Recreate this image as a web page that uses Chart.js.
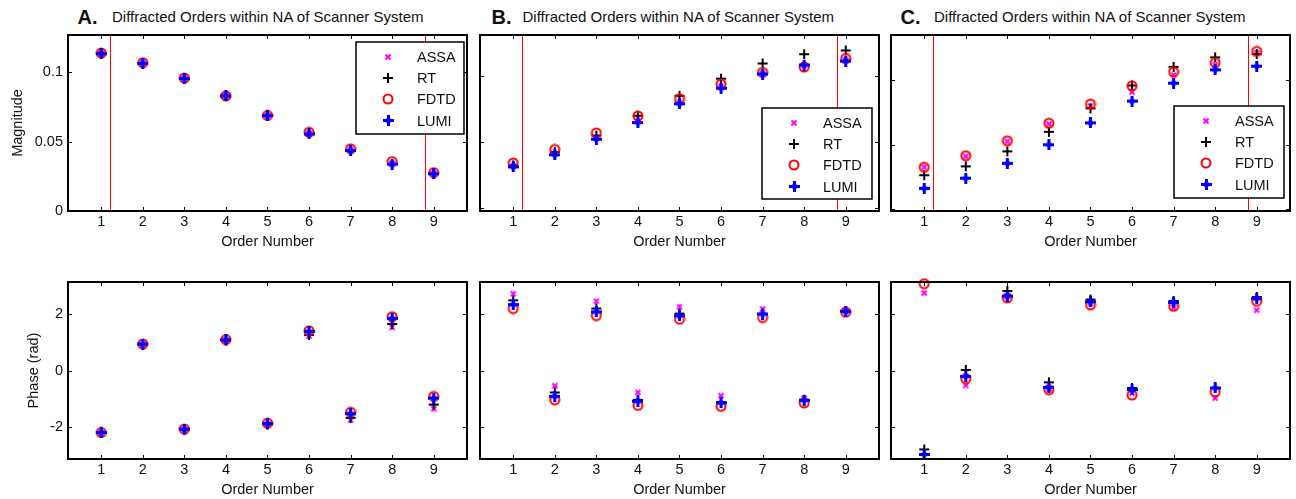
<!DOCTYPE html>
<html>
<head>
<meta charset="utf-8">
<script src="https://cdn.jsdelivr.net/npm/chart.js@4.4.1/dist/chart.umd.min.js"></script>
<style>
  body { margin: 0; background: #fff; width: 1296px; height: 499px; overflow: hidden; position: relative;
         font-family: "Liberation Sans", Arial, sans-serif; color: #111; }
  canvas { position: absolute; }
  .lab { position: absolute; top: 7px; font-size: 20px; font-weight: bold; line-height: 1; }
  .ttl { position: absolute; top: 9.3px; font-size: 15px; line-height: 1; white-space: nowrap; }
</style>
</head>
<body>
<div class="lab" style="left:77.5px">A.</div>
<div class="ttl" style="left:112px">Diffracted Orders within NA of Scanner System</div>
<div class="lab" style="left:491.5px">B.</div>
<div class="ttl" style="left:522.5px">Diffracted Orders within NA of Scanner System</div>
<div class="lab" style="left:900.5px">C.</div>
<div class="ttl" style="left:934px">Diffracted Orders within NA of Scanner System</div>

<canvas id="magA"></canvas>
<canvas id="magB"></canvas>
<canvas id="magC"></canvas>
<canvas id="phA"></canvas>
<canvas id="phB"></canvas>
<canvas id="phC"></canvas>

<script>
// ---- data ----
const orders = [1, 2, 3, 4, 5, 6, 7, 8, 9];
const naLines = [1.2, 8.8];
const magTicks = [0, 0.05, 0.1];
const phaseTicks = [-2, 0, 2];

// A. magnitude
const assaMagA = [0.114, 0.107, 0.096, 0.083, 0.069, 0.0562, 0.0443, 0.0345, 0.0272];
const rtMagA   = [0.1138, 0.1068, 0.0958, 0.0832, 0.0688, 0.0558, 0.0440, 0.0340, 0.0270];
const fdtdMagA = [0.114, 0.107, 0.096, 0.083, 0.069, 0.0568, 0.0449, 0.0357, 0.0277];
const lumiMagA = [0.1135, 0.1065, 0.0955, 0.083, 0.0688, 0.0556, 0.0437, 0.0338, 0.0269];
// B. magnitude
const assaMagB = [0.032, 0.041, 0.053, 0.066, 0.080, 0.092, 0.102, 0.108, 0.112];
const rtMagB   = [0.0325, 0.0425, 0.055, 0.070, 0.085, 0.098, 0.1095, 0.1165, 0.1193];
const fdtdMagB = [0.0343, 0.0445, 0.057, 0.0698, 0.0828, 0.0938, 0.1028, 0.1068, 0.1133];
const lumiMagB = [0.0313, 0.0405, 0.0523, 0.0648, 0.079, 0.0908, 0.1015, 0.1083, 0.1113];
// C. magnitude
const assaMagC = [0.0326, 0.041, 0.0526, 0.066, 0.080, 0.0908, 0.104, 0.112, 0.121];
const rtMagC   = [0.0264, 0.0333, 0.0449, 0.060, 0.0782, 0.0959, 0.1103, 0.1177, 0.1203];
const fdtdMagC = [0.0326, 0.0415, 0.0531, 0.0667, 0.0815, 0.0956, 0.1064, 0.1136, 0.1223];
const lumiMagC = [0.0162, 0.0241, 0.0356, 0.050, 0.0669, 0.0838, 0.0977, 0.108, 0.1108];

// A. phase
const assaPhA = [-2.22, 0.92, -2.1, 1.06, -1.92, 1.22, -1.76, 1.53, -1.36];
const rtPhA   = [-2.22, 0.92, -2.1, 1.06, -1.92, 1.26, -1.68, 1.65, -1.21];
const fdtdPhA = [-2.2, 0.94, -2.08, 1.1, -1.87, 1.41, -1.48, 1.91, -0.92];
const lumiPhA = [-2.2, 0.94, -2.08, 1.09, -1.88, 1.39, -1.53, 1.85, -0.98];
// B. phase
const assaPhB = [2.73, -0.54, 2.46, -0.78, 2.26, -0.89, 2.18, -0.98, 2.1];
const rtPhB   = [2.49, -0.78, 2.2, -1.04, 2.02, -1.12, 2.02, -1.04, 2.1];
const fdtdPhB = [2.2, -1.04, 1.95, -1.24, 1.82, -1.27, 1.88, -1.15, 2.07];
const lumiPhB = [2.34, -0.92, 2.08, -1.09, 1.94, -1.15, 2.0, -1.06, 2.1];
// C. phase
const assaPhC = [2.75, -0.53, 2.62, -0.66, 2.38, -0.8, 2.24, -0.98, 2.14];
const rtPhC   = [-2.8, 0.02, 2.82, -0.42, 2.52, -0.62, 2.47, -0.62, 2.61];
const fdtdPhC = [3.08, -0.29, 2.58, -0.68, 2.33, -0.87, 2.28, -0.76, 2.46];
const lumiPhC = [-2.98, -0.21, 2.64, -0.6, 2.44, -0.68, 2.42, -0.62, 2.55];

const FONT = '"Liberation Sans", Arial, sans-serif';

// ---- marker images (matlab-ish symbols) ----
function makeMarker(kind) {
  const c = document.createElement('canvas');
  const g = c.getContext('2d');
  if (kind === 'x') {
    c.width = c.height = 8;
    g.strokeStyle = '#ff00ff'; g.lineWidth = 2;
    g.beginPath();
    g.moveTo(1.5, 1.5); g.lineTo(6.5, 6.5);
    g.moveTo(6.5, 1.5); g.lineTo(1.5, 6.5);
    g.stroke();
  } else if (kind === '+') {
    c.width = c.height = 12;
    g.fillStyle = '#000';
    g.fillRect(1, 5, 10, 2);
    g.fillRect(5, 1, 2, 10);
  } else if (kind === 'o') {
    c.width = c.height = 12;
    g.strokeStyle = '#ff0000'; g.lineWidth = 2;
    g.beginPath(); g.arc(6, 6, 4.5, 0, Math.PI * 2); g.stroke();
  } else {
    // blue filled star: cross arms + diamond body
    c.width = c.height = 11;
    g.fillStyle = '#0000ff';
    g.fillRect(0, 4, 11, 3);
    g.fillRect(4, 0, 3, 11);
    g.beginPath();
    g.moveTo(5.5, 1.5); g.lineTo(9.5, 5.5); g.lineTo(5.5, 9.5); g.lineTo(1.5, 5.5);
    g.closePath(); g.fill();
  }
  return c;
}
const mk = { ASSA: makeMarker('x'), RT: makeMarker('+'), FDTD: makeMarker('o'), LUMI: makeMarker('*') };

// ---- plugins ----
const axesBox = {
  id: 'axesBox',
  beforeDatasetsDraw(chart, args, opts) {
    if (!opts.na) return;
    const { ctx, chartArea: a, scales: { x } } = chart;
    ctx.save();
    ctx.strokeStyle = '#ff0000';
    ctx.lineWidth = 1;
    naLines.forEach(v => {
      const px = Math.round(x.getPixelForValue(v)) + 0.5;
      ctx.beginPath(); ctx.moveTo(px, a.top); ctx.lineTo(px, a.bottom); ctx.stroke();
    });
    ctx.restore();
  },
  afterDatasetsDraw(chart) {
    const { ctx, chartArea: a, scales: { x, y } } = chart;
    ctx.save();
    ctx.strokeStyle = '#000';
    ctx.lineWidth = 1;
    ctx.beginPath();
    x.ticks.forEach(t => {
      const px = Math.round(x.getPixelForValue(t.value)) + 0.5;
      ctx.moveTo(px, a.bottom); ctx.lineTo(px, a.bottom - 4);
      ctx.moveTo(px, a.top); ctx.lineTo(px, a.top + 4);
    });
    y.ticks.forEach(t => {
      const py = Math.round(y.getPixelForValue(t.value)) + 0.5;
      ctx.moveTo(a.left, py); ctx.lineTo(a.left + 4, py);
      ctx.moveTo(a.right, py); ctx.lineTo(a.right - 4, py);
    });
    ctx.stroke();
    ctx.lineWidth = 2;
    ctx.strokeRect(a.left, a.top, a.right - a.left, a.bottom - a.top);
    ctx.restore();
  }
};

const boxLegend = {
  id: 'boxLegend',
  afterDraw(chart, args, opts) {
    if (!opts.show) return;
    const { ctx, chartArea: a } = chart;
    const x = Math.round(a.left + opts.x), y = Math.round(a.top + opts.y);
    ctx.save();
    ctx.fillStyle = '#fff';
    ctx.fillRect(x, y, opts.w, opts.h);
    ctx.strokeStyle = '#000';
    ctx.lineWidth = 1.5;
    ctx.strokeRect(x, y, opts.w, opts.h);
    ctx.font = '14.5px ' + FONT;
    ctx.fillStyle = '#111';
    ctx.textBaseline = 'middle';
    chart.data.datasets.forEach((ds, i) => {
      const yy = y + 14.5 + i * 21.4;
      const img = ds.pointStyle;
      ctx.drawImage(img, Math.round(x + 32 - img.width / 2), Math.round(yy - img.height / 2));
      ctx.fillText(ds.label, x + 61, yy + 1);
    });
    ctx.restore();
  }
};

function series(label, vals, order) {
  return {
    label: label,
    data: orders.map((o, i) => ({ x: o, y: vals[i] })),
    pointStyle: mk[label],
    pointRadius: 5,
    showLine: false,
    clip: false,
    order: order
  };
}

function buildPanel(id, cfg) {
  const yW = cfg.yW, padTop = 8, padRight = 4, xH = 45;
  const cv = document.getElementById(id);
  cv.width = yW + cfg.w + padRight;
  cv.height = padTop + cfg.h + xH;
  cv.style.left = (cfg.left - yW) + 'px';
  cv.style.top = (cfg.top - padTop) + 'px';

  new Chart(cv, {
    type: 'scatter',
    data: {
      datasets: [
        series('ASSA', cfg.assa, 4),
        series('RT', cfg.rt, 3),
        series('FDTD', cfg.fdtd, 2),
        series('LUMI', cfg.lumi, 1)
      ]
    },
    options: {
      responsive: false,
      animation: false,
      events: [],
      layout: { padding: { top: padTop, right: padRight, left: 0, bottom: 0 } },
      scales: {
        x: {
          type: 'linear', min: 0.2, max: 9.8,
          afterBuildTicks: s => { s.ticks = orders.map(v => ({ value: v })); },
          afterFit: s => { s.height = xH; s.paddingLeft = 0; s.paddingRight = 0; },
          grid: { display: false, drawTicks: false },
          border: { display: false },
          ticks: { padding: 2, color: '#111', font: { size: 14.5, family: FONT }, maxRotation: 0 },
          title: { display: true, text: 'Order Number', color: '#111',
                   font: { size: 14.5, family: FONT }, padding: { top: 0, bottom: 5.5 } }
        },
        y: {
          type: 'linear', min: cfg.ymin, max: cfg.ymax,
          afterBuildTicks: s => { s.ticks = cfg.yt.map(v => ({ value: v })); },
          afterFit: s => { s.width = yW; s.paddingTop = 0; s.paddingBottom = 0; },
          grid: { display: false, drawTicks: false },
          border: { display: false },
          ticks: { display: !!cfg.ytitle, padding: 5, color: '#111',
                   font: { size: 14.5, family: FONT }, callback: v => String(v) },
          title: { display: !!cfg.ytitle, text: cfg.ytitle || '', color: '#111',
                   font: { size: 14.5, family: FONT }, padding: { top: cfg.tpad || 0, bottom: 0 } }
        }
      },
      plugins: {
        legend: { display: false },
        tooltip: { enabled: false },
        axesBox: { na: !!cfg.na },
        boxLegend: cfg.legend || { show: false }
      }
    },
    plugins: [axesBox, boxLegend]
  });
}

const colLeft = [68, 480, 891];
const topRow = { top: 35, h: 176 };
const botRow = { top: 282, h: 177 };

buildPanel('magA', { left: colLeft[0], w: 401, top: topRow.top, h: topRow.h, yW: 68,
  ymin: 0, ymax: 0.127, yt: magTicks, ytitle: 'Magnitude', tpad: 9.3, na: true,
  assa: assaMagA, rt: rtMagA, fdtd: fdtdMagA, lumi: lumiMagA,
  legend: { show: true, x: 288, y: 7, w: 108, h: 92 } });
buildPanel('magB', { left: colLeft[1], w: 401, top: topRow.top, h: topRow.h, yW: 8,
  ymin: -0.002, ymax: 0.131, yt: magTicks, na: true,
  assa: assaMagB, rt: rtMagB, fdtd: fdtdMagB, lumi: lumiMagB,
  legend: { show: true, x: 282, y: 73, w: 110, h: 91 } });
buildPanel('magC', { left: colLeft[2], w: 401, top: topRow.top, h: topRow.h, yW: 8,
  ymin: -0.0013, ymax: 0.135, yt: magTicks, na: true,
  assa: assaMagC, rt: rtMagC, fdtd: fdtdMagC, lumi: lumiMagC,
  legend: { show: true, x: 283, y: 71, w: 110, h: 92 } });

buildPanel('phA', { left: colLeft[0], w: 401, top: botRow.top, h: botRow.h, yW: 68,
  ymin: -Math.PI, ymax: Math.PI, yt: phaseTicks, ytitle: 'Phase (rad)', tpad: 24.8,
  assa: assaPhA, rt: rtPhA, fdtd: fdtdPhA, lumi: lumiPhA });
buildPanel('phB', { left: colLeft[1], w: 401, top: botRow.top, h: botRow.h, yW: 8,
  ymin: -Math.PI, ymax: Math.PI, yt: phaseTicks,
  assa: assaPhB, rt: rtPhB, fdtd: fdtdPhB, lumi: lumiPhB });
buildPanel('phC', { left: colLeft[2], w: 401, top: botRow.top, h: botRow.h, yW: 8,
  ymin: -Math.PI, ymax: Math.PI, yt: phaseTicks,
  assa: assaPhC, rt: rtPhC, fdtd: fdtdPhC, lumi: lumiPhC });
</script>
</body>
</html>
